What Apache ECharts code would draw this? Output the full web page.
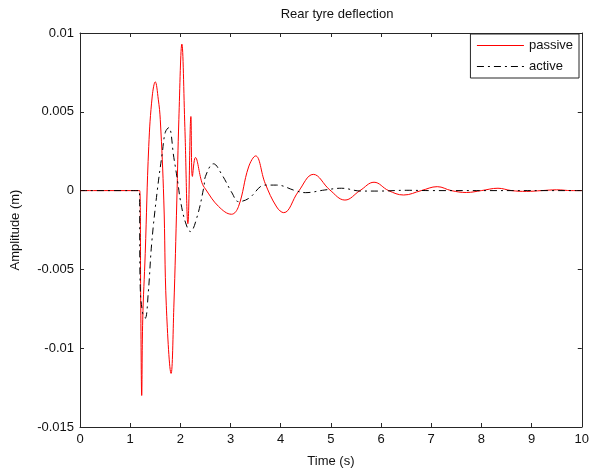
<!DOCTYPE html>
<html>
<head>
<meta charset="utf-8">
<script src="https://cdn.jsdelivr.net/npm/echarts@6/dist/echarts.min.js"></script>
<style>
html,body{margin:0;padding:0;background:#fff;}
#main{width:592px;height:473px;}
</style>
</head>
<body>
<div id="main"></div>
<script>
// values
var passiveT = [0, 1.19, 1.21, 1.23, 1.25, 1.3, 1.37, 1.44, 1.5, 1.56, 1.6, 1.67, 1.72, 1.815, 1.87, 1.93, 1.97, 2.03, 2.09, 2.15, 2.21, 2.24, 2.3, 2.43, 2.5, 2.76, 3.02, 3.16, 3.36, 3.5, 3.69, 3.92, 4.06, 4.35, 4.65, 4.98, 5.28, 5.58, 5.86, 6.15, 6.45, 6.8, 7.12, 7.4, 7.7, 8.0, 8.33, 8.6, 8.9, 9.2, 9.5, 9.8, 10];
var passiveV = [0, 0, -0.007, -0.013, -0.0082, -0.004, 0.0028, 0.006, 0.0069, 0.0058, 0.0045, -0.0006, -0.0073, -0.0116, -0.0074, -0.0006, 0.0045, 0.0093, 0.004, -0.0021, 0.0047, 0.0009, 0.0021, 0.0005, 0.0001, -0.001, -0.0015, -0.001, 0.0015, 0.0022, 0.00046, -0.00104, -0.0014, -0.00007, 0.00103, 0.00004, -0.0006, 0, 0.00053, 0, -0.00028, 0, 0.00025, 0, -0.00012, 0, 0.00015, 0, -0.00005, 0, 0.00005, 0, 0];

var activeT = [0, 1.18, 1.2, 1.25, 1.3, 1.36, 1.43, 1.54, 1.64, 1.7, 1.77, 1.87, 1.95, 2.0, 2.1, 2.2, 2.33, 2.47, 2.5, 2.66, 2.83, 3.03, 3.16, 3.36, 3.69, 3.92, 4.29, 4.49, 4.88, 5.21, 5.61, 5.94, 6.5, 7.0, 8.0, 9.0, 10];
var activeV = [0, 0, -0.0061, -0.0078, -0.0081, -0.0065, -0.0033, 0, 0.0024, 0.0037, 0.004, 0.0021, 0.0005, -0.0006, -0.002, -0.0026, -0.0017, 0.00025, 0.0009, 0.0017, 0.001, -0.00015, -0.0007, -0.0005, 0.00035, 0.00035, 0, -0.00013, 0.00004, 0.00015, -0.00003, -0.00003, 0.00002, 0, 0, 0, 0];

var xTicks = { min: 0, max: 10, step: 1 };
var yTicks = { min: -0.015, max: 0.01, step: 0.005 };

function pairs(ts, vs)
{
	var out = [];
	for (var i = 0; i < ts.length; i++) {
		out.push([ts[i], vs[i]]);
	}
	return out;
}

var FONT = 'Liberation Sans, Arial, sans-serif';
var AX = '#262626';

function frameAxis(pos, range, labels)
{
	return {
		type: 'value',
		position: pos,
		min: range.min, max: range.max, interval: range.step,
		axisLine: { show: true, onZero: false, lineStyle: { color: AX, width: 1 } },
		axisTick: { show: true, inside: true, length: 4, lineStyle: { color: AX } },
		axisLabel: { show: labels, color: '#111', fontSize: 13, fontFamily: FONT, margin: 6 },
		splitLine: { show: false }
	};
}

var xBottom = frameAxis('bottom', xTicks, true);
xBottom.name = 'Time (s)';
xBottom.nameLocation = 'middle';
xBottom.nameGap = 28;
xBottom.nameTextStyle = { color: '#111', fontSize: 13, fontFamily: FONT };

var yLeft = frameAxis('left', yTicks, true);
yLeft.name = 'Amplitude (m)';
yLeft.nameLocation = 'middle';
yLeft.nameGap = 58;
yLeft.nameTextStyle = { color: '#111', fontSize: 13, fontFamily: FONT };

var option = {
	backgroundColor: '#fff',
	animation: false,
	title: {
		text: 'Rear tyre deflection',
		left: 332, top: 3, textAlign: 'center',
		textStyle: { color: '#111', fontSize: 13, fontWeight: 'normal', fontFamily: FONT }
	},
	legend: {
		orient: 'vertical',
		right: 13, top: 34,
		padding: [5, 6, 5, 6],
		itemWidth: 47, itemHeight: 14, itemGap: 8,
		borderColor: AX, borderWidth: 1,
		backgroundColor: '#fff',
		itemStyle: { opacity: 0 },
		lineStyle: { width: 1 },
		textStyle: { color: '#111', fontSize: 13, fontFamily: FONT },
		data: ['passive', 'active']
	},
	grid: { left: 80, right: 8, top: 33, bottom: 46, containLabel: false },
	xAxis: [xBottom, frameAxis('top', xTicks, false)],
	yAxis: [yLeft, frameAxis('right', yTicks, false)],
	series: [
		{
			name: 'passive', type: 'line', showSymbol: false, symbol: 'none',
			smooth: 0.4,
			lineStyle: { color: '#ff0000', width: 1 },
			itemStyle: { color: '#ff0000' },
			data: pairs(passiveT, passiveV)
		},
		{
			name: 'active', type: 'line', showSymbol: false, symbol: 'none',
			smooth: 0.4,
			lineStyle: { color: '#000', width: 1, type: [7, 4, 2, 4] },
			itemStyle: { color: '#000' },
			data: pairs(activeT, activeV)
		}
	]
};

var myChart = echarts.init(document.getElementById('main'), null, { renderer: 'canvas' });
myChart.setOption(option);
</script>
</body>
</html>
